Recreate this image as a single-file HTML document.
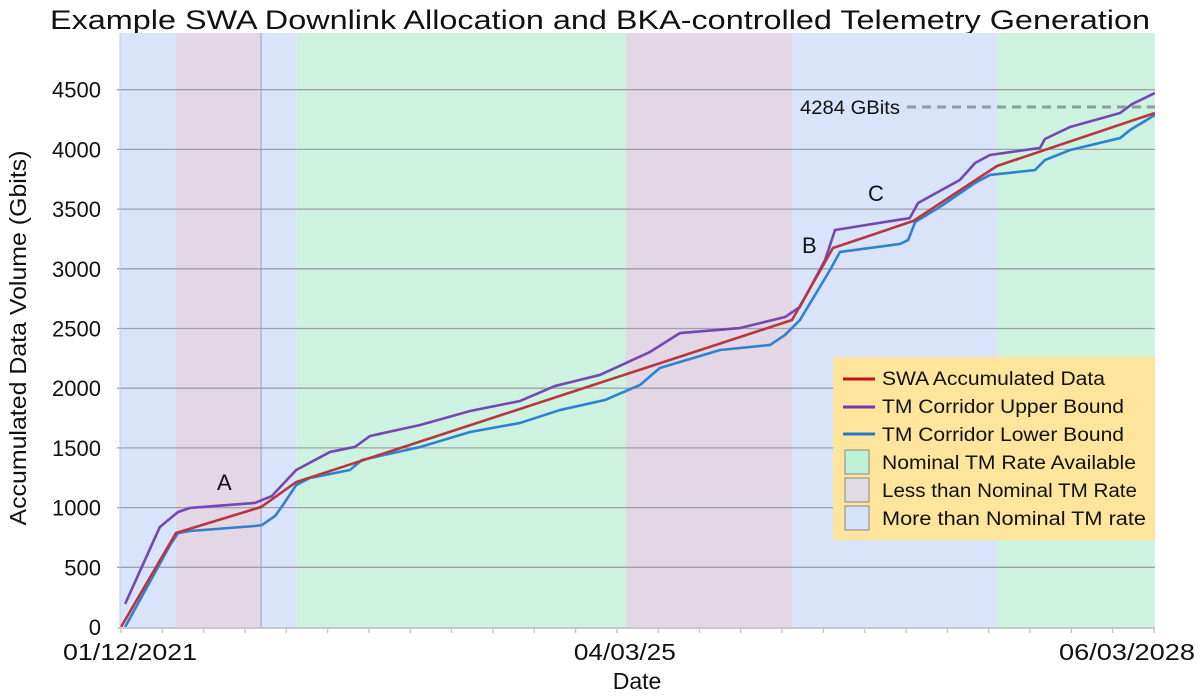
<!DOCTYPE html>
<html><head><meta charset="utf-8"><style>
body{margin:0;background:#fff;}
svg{display:block;font-family:"Liberation Sans",sans-serif;}
</style></head><body>
<svg id="chart" width="1200" height="697" viewBox="0 0 1200 697">
<text x="600" y="29" text-anchor="middle" font-size="27" textLength="1100" lengthAdjust="spacingAndGlyphs" fill="#111">Example SWA Downlink Allocation and BKA-controlled Telemetry Generation</text>
<g id="bands"></g><g id="grid"></g><g id="series"></g><g id="axes"></g>
<text x="217" y="490" font-size="22" fill="#111">A</text>
<text x="802" y="253" font-size="22" fill="#111">B</text>
<text x="868" y="201" font-size="22" fill="#111">C</text>
<text x="800" y="114" font-size="19" textLength="100" lengthAdjust="spacingAndGlyphs" fill="#111">4284 GBits</text>
<line x1="907" y1="107" x2="1155" y2="107" stroke="#8e9ca2" stroke-width="3" stroke-dasharray="9,6"/>
<text transform="translate(26,338) rotate(-90)" text-anchor="middle" font-size="23" textLength="375" lengthAdjust="spacingAndGlyphs" fill="#111">Accumulated Data Volume (Gbits)</text>
<text x="637" y="689" text-anchor="middle" font-size="23" fill="#111">Date</text>
<g>
<rect x="833" y="357" width="322" height="183" fill="#fee59b"/>
<line x1="843" y1="379" x2="875" y2="379" stroke="#c0141c" stroke-width="3"/>
<text x="882" y="385" font-size="19" textLength="223" lengthAdjust="spacingAndGlyphs" fill="#111">SWA Accumulated Data</text>
<line x1="843" y1="407" x2="875" y2="407" stroke="#7339b5" stroke-width="3"/>
<text x="882" y="413" font-size="19" textLength="242" lengthAdjust="spacingAndGlyphs" fill="#111">TM Corridor Upper Bound</text>
<line x1="843" y1="434" x2="875" y2="434" stroke="#1f7ac8" stroke-width="3"/>
<text x="882" y="441" font-size="19" textLength="242" lengthAdjust="spacingAndGlyphs" fill="#111">TM Corridor Lower Bound</text>
<rect x="845" y="450" width="24" height="24" fill="#bdf2d6" stroke="#888"/>
<text x="882" y="469" font-size="19" textLength="254" lengthAdjust="spacingAndGlyphs" fill="#111">Nominal TM Rate Available</text>
<rect x="845" y="478" width="24" height="24" fill="#e1dbe6" stroke="#888"/>
<text x="882" y="497" font-size="19" textLength="255" lengthAdjust="spacingAndGlyphs" fill="#111">Less than Nominal TM Rate</text>
<rect x="845" y="506" width="24" height="24" fill="#d5e2fa" stroke="#888"/>
<text x="882" y="525" font-size="19" textLength="264" lengthAdjust="spacingAndGlyphs" fill="#111">More than Nominal TM rate</text>
</g>
</svg>
<script>
const bandStarts=[-0.02,1.33,3.39,4.24,12.22,16.24,21.2];
const bandEnds=[1.33,3.39,4.24,12.22,16.24,21.2,25.02];
const bandTypes=["more","less","more","nominal","less","more","nominal"];
const yTicks=[0,500,1000,1500,2000,2500,3000,3500,4000,4500];
const xTickLabels=["01/12/2021","04/03/25","06/03/2028"];
const xTickLabelPos=[0,12,25];
const swaQ=[0,1.33,3.39,4.24,16.24,17.23,19.17,21.20,25.02];
const swaV=[0,787,1005,1214,2571,3174,3400,3861,4305];
const upQ=[0.10,0.94,1.38,1.67,3.24,3.65,4.24,5.06,5.66,6.03,7.24,8.45,9.66,10.50,11.59,12.80,13.53,14.98,16.07,16.43,17.04,17.28,19.09,19.29,20.30,20.67,21.03,22.24,22.36,22.97,24.18,24.47,25.02];
const upV=[193,838,963,997,1039,1097,1315,1466,1508,1600,1692,1809,1893,2018,2111,2303,2462,2504,2596,2680,3074,3325,3425,3551,3744,3886,3953,4012,4087,4188,4305,4380,4472];
const loQ=[0.10,1.19,1.38,1.67,3.24,3.41,3.73,3.92,4.24,4.57,5.54,5.83,7.24,8.45,9.66,10.62,11.71,12.56,13.04,14.50,15.71,16.07,16.43,17.16,17.40,18.85,19.05,19.22,19.82,20.67,21.03,22.12,22.36,22.97,24.18,24.42,25.02];
const loV=[0,687,787,804,846,854,930,1022,1189,1248,1315,1399,1508,1633,1709,1817,1901,2027,2169,2320,2362,2446,2571,2990,3141,3208,3241,3392,3518,3719,3786,3827,3911,3995,4095,4162,4288];
const NS="http://www.w3.org/2000/svg";
const X0=121,XS=41.32,Y0=627,YS=0.1194,TOP=33,RIGHT=1155;
const xs=q=>X0+q*XS, ys=v=>Y0-v*YS;
function mk(tag,attrs,parent){const e=document.createElementNS(NS,tag);for(const k in attrs)e.setAttribute(k,attrs[k]);document.getElementById(parent).appendChild(e);return e;}
const bandFill={more:"#d9e4fb",less:"#e3d7e6",nominal:"#cdf2df"};
bandStarts.forEach((s,i)=>{const r=mk("rect",{x:Math.max(120,xs(s)),y:TOP,width:Math.min(RIGHT,xs(bandEnds[i]))-Math.max(120,xs(s)),height:Y0-TOP,fill:bandFill[bandTypes[i]]},"bands");

});
const sep=mk("line",{x1:xs(3.39),x2:xs(3.39),y1:TOP,y2:Y0,stroke:"#b3b0d8","stroke-width":1.5},"bands");


yTicks.forEach(v=>{if(v>0){const g=mk("line",{x1:117,x2:RIGHT,y1:ys(v),y2:ys(v),stroke:"#9ea0ab","stroke-width":1.3},"grid");

}
const t=mk("text",{x:101,y:ys(v)+8,"text-anchor":"end","font-size":22,fill:"#111"},"axes");t.textContent=v;

});
const ax=mk("line",{x1:118,x2:RIGHT,y1:Y0+1,y2:Y0+1,stroke:"#c8c8c8","stroke-width":2},"axes");


const la=mk("line",{x1:120,x2:120,y1:TOP,y2:Y0,stroke:"#c0c8e8","stroke-width":1},"axes");


for(let q=0;q<=25;q++){const t=mk("line",{x1:xs(q),x2:xs(q),y1:Y0+1,y2:Y0+6,stroke:"#c8c8c8","stroke-width":1.5},"axes");

}
const labOff=[9,8,-27];
const labLen=[134,102,136];
xTickLabels.forEach((l,i)=>{const t=mk("text",{x:xs(xTickLabelPos[i])+labOff[i],y:660,"text-anchor":"middle","font-size":23,textLength:labLen[i],lengthAdjust:"spacingAndGlyphs",fill:"#111"},"axes");t.textContent=l;

});
function line(Q,V,color,name){const p=mk("polyline",{points:Q.map((q,i)=>xs(q)+","+ys(V[i])).join(" "),fill:"none",stroke:color,"stroke-width":2.6,"stroke-linejoin":"round"},"series");

}
line(loQ,loV,"#2f82cf","lower-bound-line");
line(upQ,upV,"#7547b0","upper-bound-line");
line(swaQ,swaV,"#b8373e","swa-accumulated-line");
</script>
</body></html>
